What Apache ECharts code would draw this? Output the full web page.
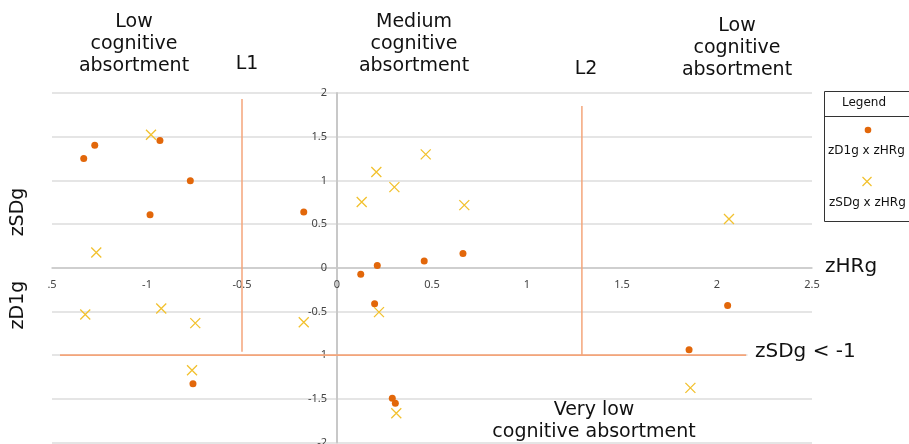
<!DOCTYPE html>
<html>
<head>
<meta charset="utf-8">
<script src="https://cdn.jsdelivr.net/npm/echarts@6/dist/echarts.min.js"></script>
<style>
html,body{margin:0;padding:0;background:#fff;}
#c{width:909px;height:444px;}
</style>
</head>
<body>
<div id="c"></div>
<script>
// zD1g x zHRg (orange dots): [zHRg, zD1g]
var zD1gPoints = [
  [-1.333, 1.249], [-1.275, 1.401], [-0.932, 1.455], [-0.772, 0.997],
  [-0.984, 0.607], [-0.175, 0.637], [0.125, -0.073], [0.212, 0.026],
  [0.459, 0.076], [0.663, 0.164], [0.198, -0.412], [-0.758, -1.329],
  [0.291, -1.494], [0.307, -1.551], [2.056, -0.432], [1.853, -0.939]
];
// zSDg x zHRg (yellow crosses): [zHRg, zSDg]
var zSDgPoints = [
  [-0.979, 1.523], [-1.267, 0.175], [0.130, 0.752], [0.207, 1.095],
  [0.302, 0.923], [0.467, 1.298], [0.670, 0.717], [2.063, 0.557],
  [-1.325, -0.535], [-0.925, -0.466], [-0.746, -0.634], [-0.175, -0.623],
  [0.221, -0.508], [-0.763, -1.173], [0.312, -1.665], [1.860, -1.375]
];
// threshold lines
var lineL1 = [[-0.5, 1.93], [-0.5, -0.96]];
var lineL2 = [[1.289, 1.85], [1.289, -1.0]];
var lineZSD = [[-1.458, -1.0], [2.153, -1.0]];

var xMin = -1.5, xMax = 2.5, yMin = -2, yMax = 2;
var xTicks = [-1.5, -1, -0.5, 0, 0.5, 1, 1.5, 2, 2.5];
var xTickLabels = ['.5', '-1', '-0.5', '0', '0.5', '1', '1.5', '2', '2.5'];
var yTicks = [-2, -1.5, -1, -0.5, 0, 0.5, 1, 1.5, 2];
var yTickLabels = ['-2', '-1.5', '-1', '-0.5', '0', '0.5', '1', '1.5', '2'];

var DOT = '#E2670A';
var CROSS = '#F2C12E';
var LINE = '#F4A57A';
var FONT = 'DejaVu Sans';
var crossPath = 'path://M0,0L10,10M10,0L0,10';

var GRID = {left: 52, right: 97, top: 93, bottom: 1.5};
var gridWidth = 909 - GRID.left - GRID.right;
var gridHeight = 444 - GRID.top - GRID.bottom;
// axes cross at (0, 0)
var yAxisOffset = -gridWidth * (0 - xMin) / (xMax - xMin);
var xAxisOffset = -gridHeight * (0 - yMin) / (yMax - yMin);

function lookup(ticks, labels, v) {
  for (var i = 0; i < ticks.length; i++) if (Math.abs(ticks[i] - v) < 1e-9) return labels[i];
  return '';
}

var chart = echarts.init(document.getElementById('c'), null, {renderer: 'canvas'});

function label(x, y, text, size, align) {
  return {
    type: 'text', x: x, y: y, z: 60,
    style: {text: text, font: size + 'px "' + FONT + '"', fill: '#111', align: align || 'center', verticalAlign: 'middle', lineHeight: 22}
  };
}

chart.setOption({
  animation: false,
  backgroundColor: '#fff',
  grid: {left: GRID.left, right: GRID.right, top: GRID.top, bottom: GRID.bottom, containLabel: false, outerBoundsMode: 'none'},
  xAxis: {
    type: 'value', min: xMin, max: xMax, interval: 0.5,
    position: 'bottom', offset: xAxisOffset,
    axisLine: {show: true, onZero: false, lineStyle: {color: '#c8c8c8', width: 1.5}},
    axisTick: {show: false},
    splitLine: {show: false},
    axisLabel: {
      margin: 12, color: '#444', fontSize: 11, fontFamily: 'Noto Sans',
      formatter: function (v) { return lookup(xTicks, xTickLabels, v); }
    }
  },
  yAxis: {
    type: 'value', min: yMin, max: yMax, interval: 0.5,
    position: 'left', offset: yAxisOffset,
    axisLine: {show: true, onZero: false, lineStyle: {color: '#c8c8c8', width: 2}},
    axisTick: {show: false},
    splitLine: {show: true, lineStyle: {color: '#dcdcdc', width: 1.5}},
    axisLabel: {
      margin: 10, color: '#444', fontSize: 11, fontFamily: 'Noto Sans',
      formatter: function (v) { return lookup(yTicks, yTickLabels, v); }
    }
  },
  series: [
    {type: 'line', data: lineL1, symbol: 'none', silent: true, lineStyle: {color: LINE, width: 1.5}, z: 1},
    {type: 'line', data: lineL2, symbol: 'none', silent: true, lineStyle: {color: LINE, width: 1.5}, z: 1},
    {type: 'line', data: lineZSD, symbol: 'none', silent: true, lineStyle: {color: LINE, width: 1.8}, z: 1},
    {
      name: 'zD1g x zHRg', type: 'scatter', data: zD1gPoints,
      symbol: 'circle', symbolSize: 7, itemStyle: {color: DOT, opacity: 1}, z: 3
    },
    {
      name: 'zSDg x zHRg', type: 'scatter', data: zSDgPoints,
      symbol: crossPath, symbolSize: 10,
      itemStyle: {color: 'rgba(0,0,0,0)', borderColor: CROSS, borderWidth: 1.3, opacity: 1}, z: 3
    }
  ],
  graphic: [
    // white patch so the -1 gridline stops where the threshold line ends
    {type: 'rect', z: 50, shape: {x: 747.5, y: 349, width: 70, height: 12}, style: {fill: '#fff'}},
    label(134, 44, 'Low\ncognitive\nabsortment', 19),
    label(247, 64, 'L1', 19),
    label(414, 44, 'Medium\ncognitive\nabsortment', 19),
    label(586, 69, 'L2', 19),
    label(737, 48, 'Low\ncognitive\nabsortment', 19),
    label(594, 421, 'Very low\ncognitive absortment', 19),
    label(825, 267, 'zHRg', 20, 'left'),
    label(755, 352, 'zSDg < -1', 20, 'left'),
    {type: 'text', x: 18, y: 212, rotation: Math.PI / 2, z: 60,
     style: {text: 'zSDg', font: '19px "' + FONT + '"', fill: '#111', align: 'center', verticalAlign: 'middle'}},
    {type: 'text', x: 18, y: 305, rotation: Math.PI / 2, z: 60,
     style: {text: 'zD1g', font: '19px "' + FONT + '"', fill: '#111', align: 'center', verticalAlign: 'middle'}},
    // legend box
    {type: 'rect', shape: {x: 824.5, y: 91.5, width: 120, height: 130}, style: {fill: '#fff', stroke: '#333', lineWidth: 1}, z: 60},
    {type: 'line', shape: {x1: 824.5, y1: 116.5, x2: 909, y2: 116.5}, style: {stroke: '#333', lineWidth: 1}, z: 61},
    {type: 'text', x: 864, y: 103, z: 61, style: {text: 'Legend', font: '12px "' + FONT + '"', fill: '#111', align: 'center', verticalAlign: 'middle'}},
    {type: 'circle', shape: {cx: 868, cy: 130, r: 3.3}, style: {fill: DOT}, z: 61},
    {type: 'text', x: 828, y: 151, z: 61, style: {text: 'zD1g x zHRg', font: '12px "' + FONT + '"', fill: '#111', align: 'left', verticalAlign: 'middle'}},
    {type: 'line', shape: {x1: 862.5, y1: 177, x2: 871.5, y2: 186}, style: {stroke: CROSS, lineWidth: 1.3}, z: 61},
    {type: 'line', shape: {x1: 871.5, y1: 177, x2: 862.5, y2: 186}, style: {stroke: CROSS, lineWidth: 1.3}, z: 61},
    {type: 'text', x: 829, y: 203, z: 61, style: {text: 'zSDg x zHRg', font: '12px "' + FONT + '"', fill: '#111', align: 'left', verticalAlign: 'middle'}}
  ]
});
</script>
</body>
</html>
